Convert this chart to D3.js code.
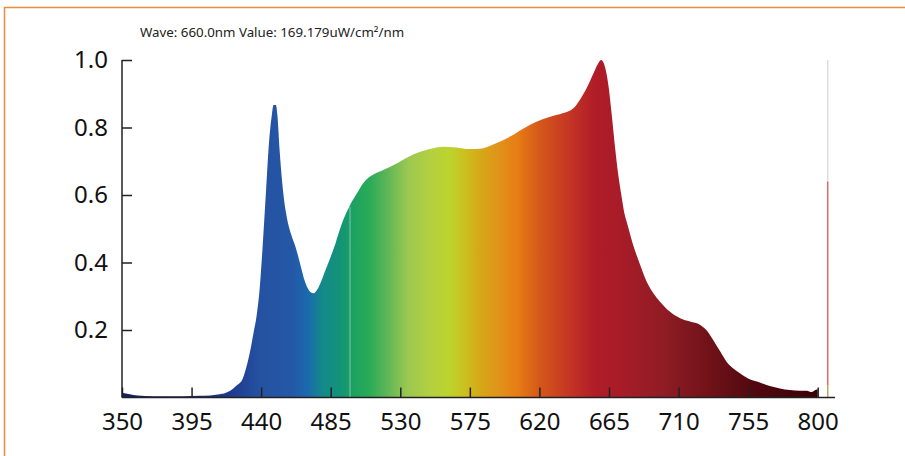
<!DOCTYPE html>
<html>
<head>
<meta charset="utf-8">
<script src="https://cdn.jsdelivr.net/npm/d3@7"></script>
<style>
  html, body { margin: 0; padding: 0; background: #fff; }
  svg { display: block; }
</style>
</head>
<body>
<svg id="chart" width="905" height="456"></svg>
<script>
// ---- data ----
const wavelengths = [350,355,360,370,380,390,400,407,412,416,420,424,428,431,433,435,437,439,441,443,445,447,448,449.5,450.5,452,454,456,458,460,462,464,466,468,470,472,474,476,478,480,482,484,486,488,490,493,497.5,502,506,512,519,528,538,549,558,566,575,583,592,601,610,618,627,635,642,646,650.5,655,658,660,662.4,664.6,666.8,669,671,673,675,677,679,681,683,685,689.4,693.7,698,704.5,711,717.4,724,728,732.5,737,741,745.4,749.7,756,763,769,775.6,782,788.6,793,796,799.3,800];
const values = [0.014,0.010,0.006,0.004,0.004,0.004,0.005,0.006,0.009,0.012,0.02,0.035,0.055,0.10,0.14,0.19,0.24,0.32,0.45,0.60,0.75,0.84,0.867,0.867,0.837,0.73,0.62,0.55,0.505,0.475,0.45,0.418,0.382,0.348,0.325,0.312,0.309,0.318,0.335,0.358,0.382,0.405,0.43,0.455,0.485,0.525,0.57,0.605,0.635,0.659,0.674,0.694,0.719,0.736,0.743,0.741,0.736,0.738,0.753,0.773,0.798,0.817,0.832,0.842,0.857,0.881,0.916,0.961,0.99,1.0,0.98,0.926,0.837,0.738,0.66,0.60,0.545,0.512,0.478,0.447,0.42,0.395,0.343,0.309,0.284,0.254,0.235,0.225,0.215,0.2,0.17,0.136,0.106,0.086,0.072,0.054,0.044,0.034,0.027,0.022,0.02,0.02,0.016,0.024,0.024];
const xTicks = [350,395,440,485,530,575,620,665,710,755,800];
const yTicks = [0.2,0.4,0.6,0.8,1.0];
const cursorWave = 806.5;
const cursorValue = 0.64;
const cursorBase = 0.035;
const markerWave = 497.5;
const infoText = "Wave: 660.0nm Value: 169.179uW/cm²/nm";

// wavelength -> colour stops for the fill
const colorWaves = [350,400,420,440,460,470,480,490,500,510,520,535,550,562,572,582,595,606,620,640,656,672,700,730,760,800];
const colorHex = ["#142068","#182a78","#1e3a8e","#2552a2","#2458a6","#1a6aae","#148a88","#12927a","#1da260","#2aab58","#58b458","#9cc850","#b4d040","#bcd42c","#ccbf20","#d4a818","#e2901a","#e87c14","#d4581a","#c43424","#b01c28","#a81c28","#901c24","#701218","#500810","#3c0008"];

// ---- chart ----
const svg = d3.select("#chart");
const x = d3.scaleLinear().domain([350, 811.2]).range([122, 835]);
const y = d3.scaleLinear().domain([0, 1]).range([397.5, 60]);

// orange frame
svg.append("rect").attr("x", 4.5).attr("y", 7.5).attr("width", 920).attr("height", 470)
  .attr("fill", "none").attr("stroke", "#ee8a3c").attr("stroke-width", 1.5);

// gradient
const defs = svg.append("defs");
const grad = defs.append("linearGradient").attr("id", "spec")
  .attr("gradientUnits", "userSpaceOnUse")
  .attr("x1", x(350)).attr("x2", x(800)).attr("y1", 0).attr("y2", 0);
colorWaves.forEach((w, i) => {
  grad.append("stop").attr("offset", (w - 350) / 450).attr("stop-color", colorHex[i]);
});

const pts = wavelengths.map((w, i) => [w, values[i]]);
const area = d3.area().x(d => x(d[0])).y0(y(0)).y1(d => y(d[1])).curve(d3.curveMonotoneX);
svg.append("path").datum(pts).attr("d", area).attr("fill", "url(#spec)");

// faint marker line inside the fill
const mi = wavelengths.indexOf(markerWave);
svg.append("line").attr("x1", x(markerWave)).attr("x2", x(markerWave))
  .attr("y1", y(values[mi]) + 2).attr("y2", y(0))
  .attr("stroke", "#ffffff").attr("stroke-opacity", 0.45).attr("stroke-width", 1);

// cursor line
svg.append("line").attr("x1", x(cursorWave)).attr("x2", x(cursorWave))
  .attr("y1", y(1)).attr("y2", y(cursorValue)).attr("stroke", "#dddddd").attr("stroke-width", 1.5);
svg.append("line").attr("x1", x(cursorWave)).attr("x2", x(cursorWave))
  .attr("y1", y(cursorValue)).attr("y2", y(cursorBase)).attr("stroke", "#e86464").attr("stroke-width", 1.5);
svg.append("line").attr("x1", x(cursorWave)).attr("x2", x(cursorWave))
  .attr("y1", y(cursorBase)).attr("y2", y(0)).attr("stroke", "#b0aa60").attr("stroke-width", 1.5);

// axes
const font = "'Noto Sans', 'Open Sans', sans-serif";
const xAxis = d3.axisBottom(x).tickValues(xTicks).tickSize(-10).tickPadding(22).tickSizeOuter(0);
const gx = svg.append("g").attr("transform", `translate(0,${y(0)})`).call(xAxis);
gx.select(".domain").attr("d", `M${x(350)},0H${x(811.2)}`).attr("stroke", "#222").attr("stroke-width", 1.5);
gx.selectAll(".tick line").attr("stroke", "#222").attr("stroke-width", 1.5);
gx.selectAll(".tick text").attr("font-family", font).attr("font-size", 24).attr("fill", "#111").attr("dy", "0.71em").attr("y", 15);

const yAxis = d3.axisLeft(y).tickValues(yTicks).tickFormat(d3.format(".1f")).tickSize(-10).tickPadding(24).tickSizeOuter(0);
const gy = svg.append("g").attr("transform", `translate(${x(350)},0)`).call(yAxis);
gy.select(".domain").attr("d", `M0,${y(0)}V${y(1)}`).attr("stroke", "#222").attr("stroke-width", 1.5);
gy.selectAll(".tick line").attr("stroke", "#222").attr("stroke-width", 1.5);
gy.selectAll(".tick text").attr("font-family", font).attr("font-size", 24).attr("fill", "#111").attr("x", -14);

// info text
svg.append("text").attr("x", 140).attr("y", 37).attr("font-family", font).attr("font-size", 13.3)
  .attr("fill", "#222").text(infoText);
</script>
</body>
</html>
